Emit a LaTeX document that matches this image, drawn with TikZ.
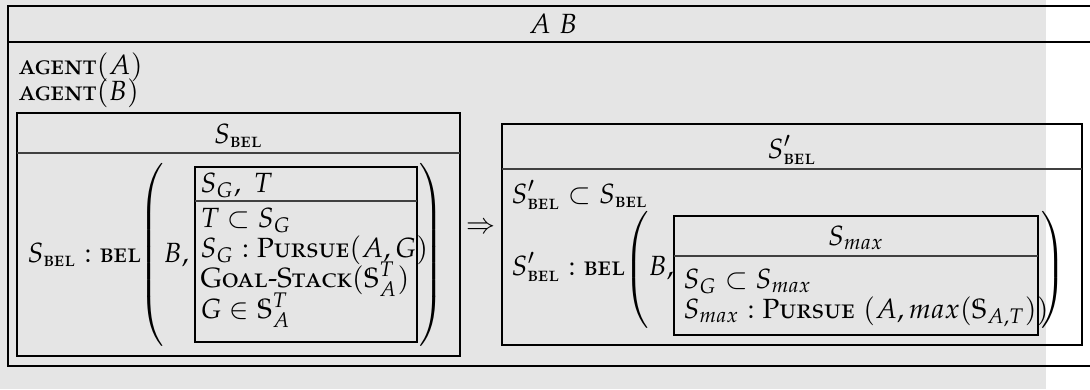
\documentclass[tikz,border=0pt]{standalone}
\usepackage[T1]{fontenc}
\usepackage[sc]{mathpazo}
\usepackage{amsmath}

% notation
\newcommand{\belsc}{\text{\textsc{bel}}}
\newcommand{\Sbel}{S_{\belsc}}
\newcommand{\Sbelp}{S'_{\belsc}}
\newcommand{\stk}{\mathbb{S}}
\newcommand{\pursue}{\text{\textsc{Pursue}}}
% tall extensible parentheses of a given total height
\newcommand{\tallL}[1]{$\delimitershortfall=0pt\delimiterfactor=1000\left(\vcenter{\hbox{\rule{0pt}{#1}}}\right.$}
\newcommand{\tallR}[1]{$\delimitershortfall=0pt\delimiterfactor=1000\left.\vcenter{\hbox{\rule{0pt}{#1}}}\right)$}

\tikzset{
  txt/.style={inner sep=0pt, anchor=base west},
  ctxt/.style={inner sep=0pt, anchor=base},
  paren/.style={inner sep=0pt},
  box/.style={draw=black, line width=0.5pt},
  rule/.style={draw=black!75, line width=0.5pt},
  frame/.style={draw=black, line width=0.5pt},
}

\begin{document}
\begin{tikzpicture}[x=0.36pt, y=-0.36pt]
\useasboundingbox (0,0) rectangle (1090,389);
\clip (0,0) rectangle (1090,389);

% shaded page area
\fill[black!10] (0,0) rectangle (1046,389);

% outer frame with title row
\draw[frame] (8,6) rectangle (1098,366);
\draw[frame] (8,42) -- (1098,42);
\node[ctxt] (title) at (553,33) {$A\ B$};

\node[txt] (agA) at (18,74) {\textsc{agent}$(A)$};
\node[txt] (agB) at (18,100) {\textsc{agent}$(B)$};

% ---- left structure: S_bel ----
\draw[box] (17,113) rectangle (460,356);
\draw[rule] (17,153) -- (460,153);
\node[ctxt] (sbelHead) at (238.5,143) {$\Sbel$};
\node[txt] (sbelPred) at (27,262) {$\Sbel : \belsc$};
\node[paren] (lpA) at (153.5,255) {\tallL{63pt}};
\node[txt] (bA) at (163,262) {$B,$};
\draw[box] (195,167) rectangle (417,342);
\draw[rule] (195,201) -- (417,201);
\node[txt] (sgHead) at (200,192) {$S_G,\ T$};
\node[txt] (l1) at (200,227) {$T \subset S_G$};
\node[txt] (l2) at (200,257) {$S_G : \pursue(A,G)$};
\node[txt] (l3) at (200,287) {\textsc{Goal-Stack}$(\stk^T_A)$};
\node[txt] (l4) at (200,318) {$G \in \stk^T_A$};
\node[paren] (rpA) at (430,255) {\tallR{63pt}};

\node (impl) at (481,228) {$\Rightarrow$};

% ---- right structure: S'_bel ----
\draw[box] (502,124) rectangle (1082,345);
\draw[rule] (502,169) -- (1082,169);
\node[ctxt] (sbpHead) at (792,158) {$\Sbelp$};
\node[txt] (r1) at (511,203) {$\Sbelp \subset \Sbel$};
\node[txt] (r2) at (511,275) {$\Sbelp : \belsc$};
\node[paren] (lpB) at (638,270) {\tallL{36pt}};
\node[txt] (bB) at (648,275) {$B,$};
\draw[box] (674,216) rectangle (1038,335);
\draw[rule] (674,256) -- (1038,256);
\node[ctxt] (smaxHead) at (856,245) {$S_{max}$};
\node[txt] (m1) at (683,288) {$S_G \subset S_{max}$};
\node[txt] (m2) at (683,318) {$S_{max} : \pursue\ (A, max(\stk_{A,T}))$};
\node[paren] (rpB) at (1052,270) {\tallR{36pt}};
\end{tikzpicture}
\end{document}
